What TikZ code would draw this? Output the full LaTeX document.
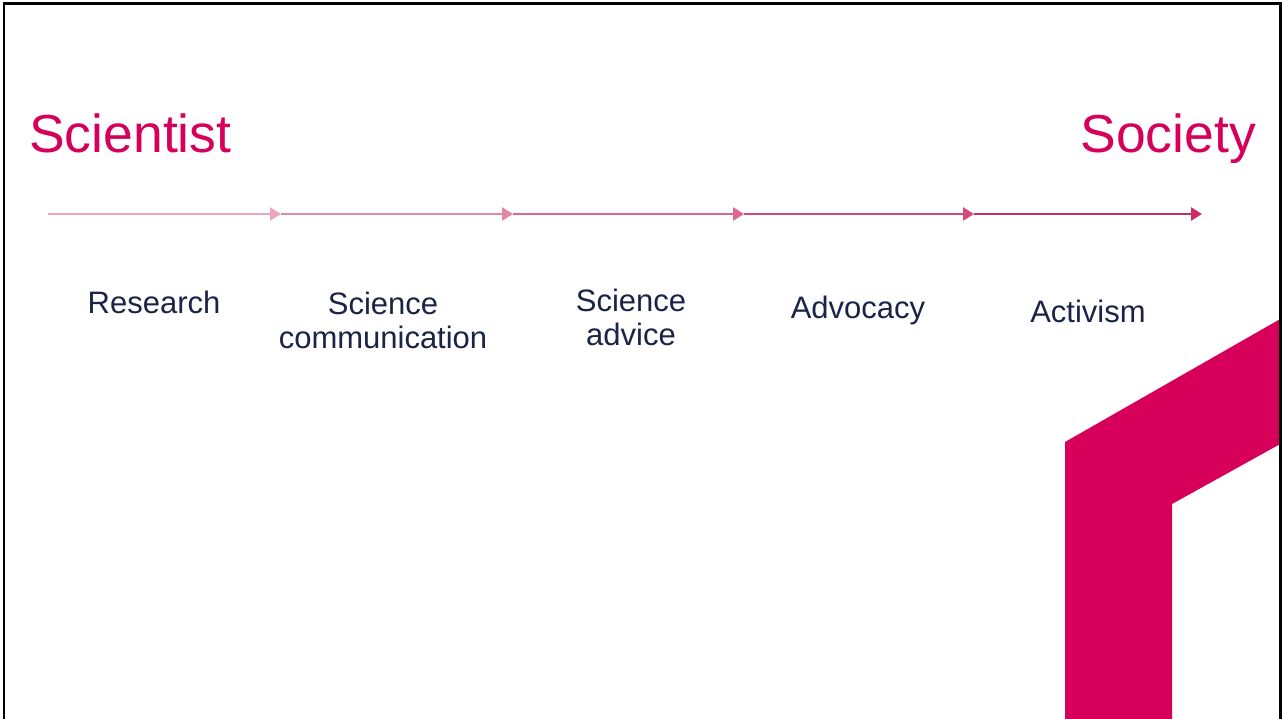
\documentclass[tikz,border=0pt]{standalone}
\usepackage{fontspec}
\setmainfont{Liberation Sans}
\usetikzlibrary{arrows.meta}
\definecolor{brand}{HTML}{D6005A}
\definecolor{navy}{HTML}{1B2447}
\definecolor{segA}{HTML}{EEA6BF}
\definecolor{segB}{HTML}{E387A8}
\definecolor{segC}{HTML}{DC6791}
\definecolor{segD}{HTML}{D54A7B}
\definecolor{segE}{HTML}{CE2A65}
\tikzset{
  big/.style={text=brand, font=\fontsize{53.5}{60}\selectfont, inner sep=0pt},
  lab/.style={text=navy, font=\fontsize{31}{34}\selectfont, inner sep=0pt, align=center, anchor=base},
  seg/.style={line width=2.6pt, -{Triangle[length=11pt,width=13pt]}},
}
\begin{document}
\begin{tikzpicture}[x=1pt,y=-1pt]
\useasboundingbox (0,0) rectangle (1282,719);
\fill[white] (0,0) rectangle (1282,719);
% decorative shape
\fill[brand] (1065,719) -- (1065,442) -- (1282,318) -- (1282,443) -- (1172,504) -- (1172,719) -- cycle;
% frame
\draw[line width=2.5pt] (4,740) -- (4,3.5) -- (1280.5,3.5) -- (1280.5,740);
% titles
\node[big, anchor=base west] (sci) at (29,153) {Scientist};
\node[big, anchor=base east] (soc) at (1256,153) {Society};
% arrow coordinates
\coordinate (p0) at (48,214);
\coordinate (p1) at (281,214);
\coordinate (p2) at (513,214);
\coordinate (p3) at (744,214);
\coordinate (p4) at (974,214);
\coordinate (p5) at (1202,214);
\draw[seg, draw=segA, fill=segA] (p0) -- (p1);
\draw[seg, draw=segB, fill=segB] (p1) -- (p2);
\draw[seg, draw=segC, fill=segC] (p2) -- (p3);
\draw[seg, draw=segD, fill=segD] (p3) -- (p4);
\draw[seg, draw=segE, fill=segE] (p4) -- (p5);
% labels
\node[lab] (res) at (154,313) {Research};
\node[lab] (com) at (383,348) {Science\\communication};
\node[lab] (adv) at (631,345) {Science\\advice};
\node[lab] (advo) at (858,318) {Advocacy};
\node[lab] (act) at (1088,322) {Activism};
\end{tikzpicture}
\end{document}
